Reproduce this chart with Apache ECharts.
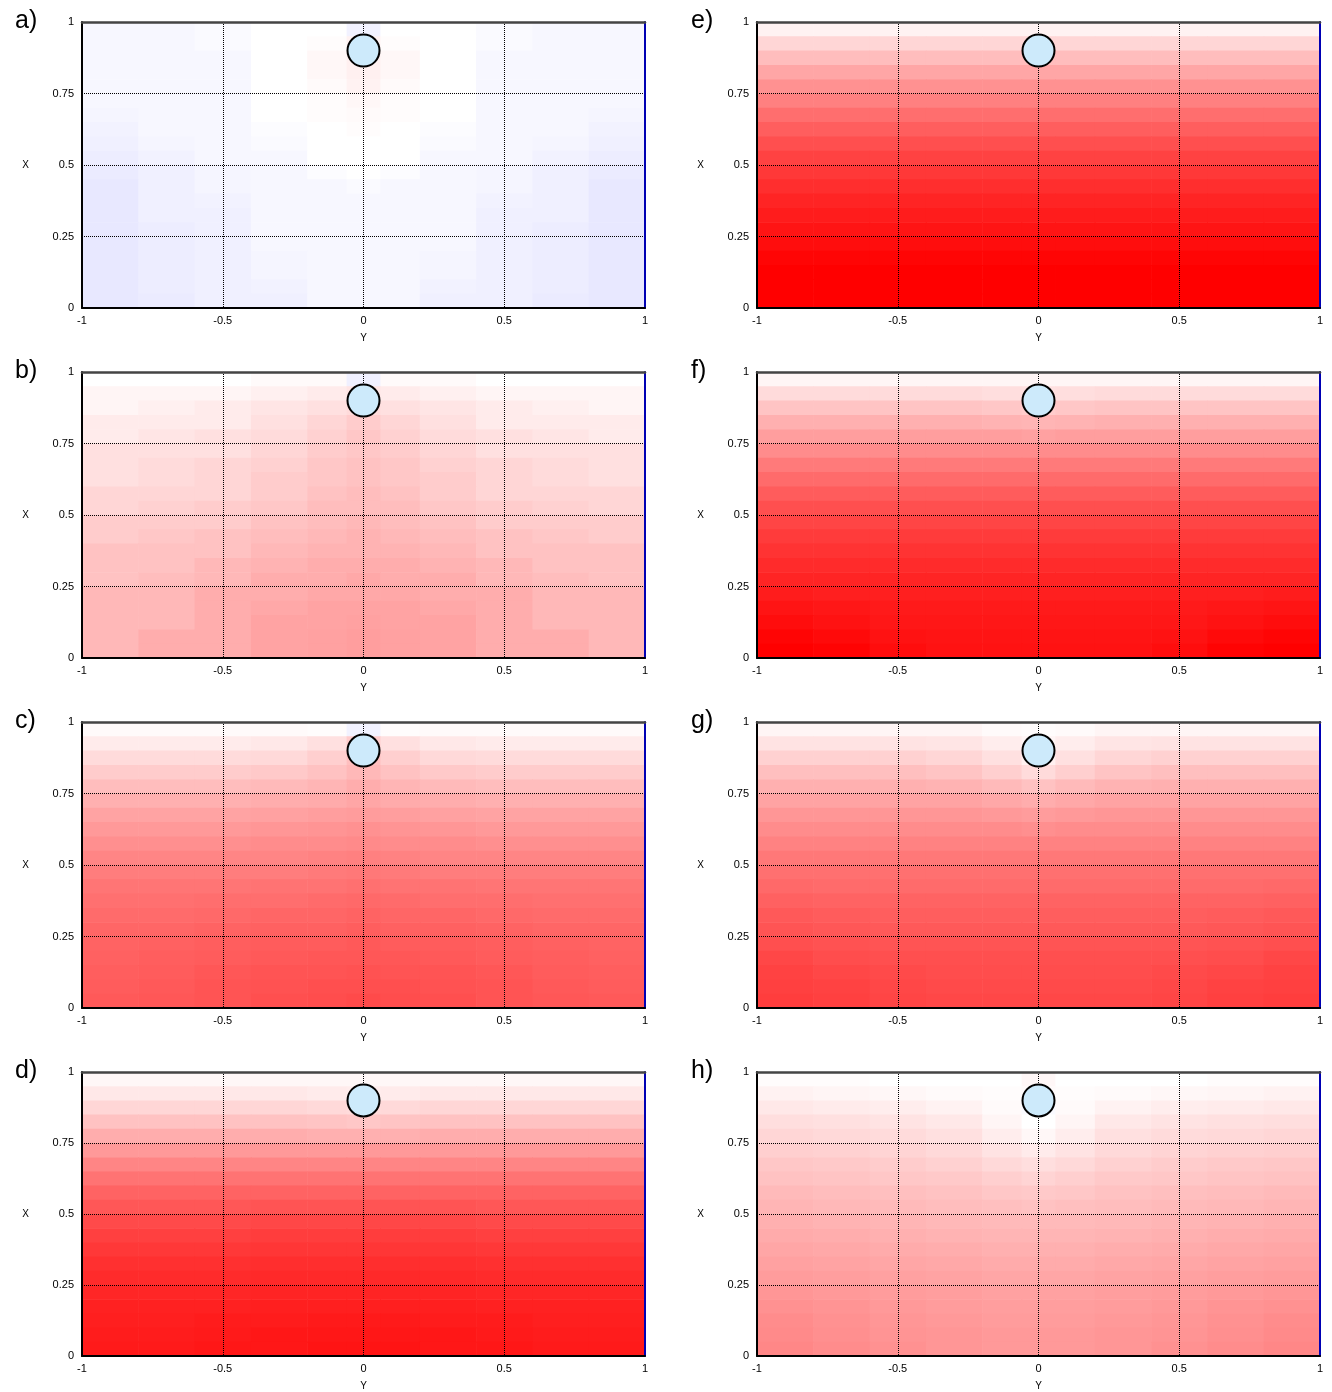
<!DOCTYPE html>
<html><head><meta charset="utf-8">
<script src="https://cdn.jsdelivr.net/npm/echarts@6/dist/echarts.min.js"></script>
<style>html,body{margin:0;padding:0;background:#fff}#c{width:1332px;height:1392px}</style>
</head><body><div id="c"></div>
<script>
// ---------- data ----------
const panelLabels = ['a)','b)','c)','d)','e)','f)','g)','h)'];
const yTickStep = 0.5;   // horizontal axis "Y"
const xTickStep = 0.25;  // vertical axis "X"
// column edges along Y, row edges along X (rows listed from top X=1 down to X=0)
const yEdges = [-1,-0.8,-0.6,-0.4,-0.2,-0.06,0.06,0.2,0.4,0.6,0.8,1];
const xEdges = [1,0.95,0.9,0.85,0.8,0.75,0.7,0.65,0.6,0.55,0.5,0.45,0.4,0.35,0.3,0.25,0.2,0.15,0.1,0.05,0];
// obstacle (circle) position per panel
const circleY = [0,0,0,0,0,0,0,0];
const circleX = [0.9,0.9,0.9,0.9,0.9,0.9,0.9,0.9];
const fieldA = [
[-3,-3,-2,0,0,-5,0,0,-2,-3,-3],
[-3,-3,-2,0,1,5,1,0,-2,-3,-3],
[-3,-3,-3,0,3,6,3,0,-3,-3,-3],
[-3,-3,-3,0,3,6,3,0,-3,-3,-3],
[-3,-3,-3,0,2,5,2,0,-3,-3,-3],
[-3,-3,-3,0,1,3,1,0,-3,-3,-3],
[-4,-3,-3,0,1,2,1,0,-3,-3,-4],
[-5,-3,-3,-1,0,1,0,-1,-3,-3,-5],
[-6,-4,-3,-2,0,0,0,-2,-3,-4,-6],
[-7,-5,-3,-3,0,0,0,-3,-3,-5,-7],
[-8,-6,-4,-3,-1,0,-1,-3,-4,-6,-8],
[-9,-6,-4,-3,-3,-2,-3,-3,-4,-6,-9],
[-9,-6,-5,-3,-3,-3,-3,-3,-5,-6,-9],
[-9,-6,-6,-3,-3,-3,-3,-3,-6,-6,-9],
[-9,-7,-6,-3,-3,-3,-3,-3,-6,-7,-9],
[-9,-7,-6,-3,-3,-3,-3,-3,-6,-7,-9],
[-9,-7,-6,-4,-3,-3,-3,-4,-6,-7,-9],
[-9,-7,-6,-4,-3,-3,-3,-4,-6,-7,-9],
[-9,-7,-6,-5,-3,-3,-3,-5,-6,-7,-9],
[-9,-8,-6,-6,-3,-3,-3,-6,-6,-8,-9]];
const fieldB = [
[0,0,0,2,2,-6,2,2,0,0,0],
[4,4,4,6,8,10,8,6,4,4,4],
[4,6,8,10,12,14,12,10,8,6,4],
[8,8,8,12,16,20,16,12,8,8,8],
[8,10,12,14,18,22,18,14,12,10,8],
[12,12,12,16,20,22,20,16,12,12,12],
[12,14,16,18,22,24,22,18,16,14,12],
[12,14,16,20,22,24,22,20,16,14,12],
[16,16,16,20,24,26,24,20,16,16,16],
[16,18,20,22,26,26,26,22,20,18,16],
[20,20,20,24,26,28,26,24,20,20,20],
[20,22,24,26,28,30,28,26,24,22,20],
[24,24,24,28,30,30,30,28,24,24,24],
[24,24,28,30,32,32,32,30,28,24,24],
[24,26,28,32,32,34,32,32,28,26,24],
[28,28,32,32,34,34,34,32,32,28,28],
[28,28,32,34,36,36,36,34,32,28,28],
[28,28,32,36,36,37,36,36,32,28,28],
[28,32,32,36,37,38,37,36,32,32,28],
[28,32,32,36,37,38,37,36,32,32,28]];
const fieldC = [
[2,2,2,2,1,-5,1,2,2,2,2],
[8,8,8,9,12,20,12,9,8,8,8],
[14,14,14,15,19,25,19,15,14,14,14],
[20,20,20,21,24,28,24,21,20,20,20],
[26,26,26,27,29,32,29,27,26,26,26],
[31,31,31,32,33,35,33,32,31,31,31],
[36,36,36,37,38,39,38,37,36,36,36],
[40,40,40,41,42,43,42,41,40,40,40],
[44,44,44,45,45,46,45,45,44,44,44],
[48,48,48,48,49,50,49,48,48,48,48],
[51,51,51,51,52,53,52,51,51,51,51],
[54,54,54,55,55,56,55,55,54,54,54],
[56,56,57,57,58,59,58,57,57,56,56],
[58,58,59,60,60,61,60,60,59,58,58],
[60,60,61,62,62,63,62,62,61,60,60],
[61,62,63,64,64,65,64,64,63,62,61],
[62,63,64,65,66,66,66,65,64,63,62],
[63,64,66,67,67,68,67,67,66,64,63],
[64,65,67,68,69,69,69,68,67,65,64],
[65,66,67,69,70,71,70,69,67,66,65]];
const fieldD = [
[3,3,3,3,3,3,3,3,3,3,3],
[9,9,9,9,8,7,8,9,9,9,9],
[16,16,16,16,15,14,15,16,16,16,16],
[24,24,24,24,23,22,23,24,24,24,24],
[32,32,32,32,31,31,31,32,32,32,32],
[40,40,40,40,40,40,40,40,40,40,40],
[48,48,48,48,48,48,48,48,48,48,48],
[55,55,55,55,55,55,55,55,55,55,55],
[61,61,61,61,61,61,61,61,61,61,61],
[66,66,66,67,67,67,67,67,66,66,66],
[71,71,71,72,72,72,72,72,71,71,71],
[75,75,75,76,76,76,76,76,75,75,75],
[78,78,78,79,79,79,79,79,78,78,78],
[81,81,81,82,82,82,82,82,81,81,81],
[83,83,83,84,84,84,84,84,83,83,83],
[85,85,85,86,86,86,86,86,85,85,85],
[87,87,87,88,88,88,88,88,87,87,87],
[88,88,89,89,90,90,90,89,89,88,88],
[89,89,90,91,91,91,91,91,90,89,89],
[90,90,91,91,92,92,92,91,91,90,90]];
const fieldE = [
[5,5,5,5,5,5,5,5,5,5,5],
[16,16,16,16,16,16,16,16,16,16,16],
[26,26,26,26,26,26,26,26,26,26,26],
[35,35,35,35,35,35,35,35,35,35,35],
[43,43,43,43,43,43,43,43,43,43,43],
[50,50,50,50,50,50,50,50,50,50,50],
[57,57,57,57,57,57,57,57,57,57,57],
[63,63,63,63,63,63,63,63,63,63,63],
[69,69,69,69,69,69,69,69,69,69,69],
[74,74,74,74,74,74,74,74,74,74,74],
[78,78,78,78,78,78,78,78,78,78,78],
[82,82,82,82,82,82,82,82,82,82,82],
[86,86,86,86,86,86,86,86,86,86,86],
[89,89,89,89,89,89,89,89,89,89,89],
[92,92,92,92,92,92,92,92,92,92,92],
[95,95,95,95,95,95,95,95,95,95,95],
[98,98,98,98,98,98,98,98,98,98,98],
[100,100,100,100,100,100,100,100,100,100,100],
[100,100,100,100,100,100,100,100,100,100,100],
[100,100,100,100,100,100,100,100,100,100,100]];
const fieldF = [
[4,4,4,4,4,4,4,4,4,4,4],
[14,14,14,14,13,12,13,14,14,14,14],
[23,23,23,23,22,20,22,23,23,23,23],
[31,31,31,31,30,29,30,31,31,31,31],
[38,38,38,38,38,37,38,38,38,38,38],
[45,45,45,45,45,45,45,45,45,45,45],
[52,52,52,52,52,52,52,52,52,52,52],
[58,58,58,58,58,58,58,58,58,58,58],
[64,64,64,64,64,64,64,64,64,64,64],
[69,69,69,69,69,69,69,69,69,69,69],
[73,73,73,73,73,73,73,73,73,73,73],
[77,77,77,77,77,77,77,77,77,77,77],
[80,80,80,80,80,80,80,80,80,80,80],
[83,83,83,83,83,83,83,83,83,83,83],
[86,86,86,86,86,86,86,86,86,86,86],
[89,88,88,88,88,88,88,88,88,88,89],
[92,91,90,90,90,90,90,90,90,91,92],
[95,93,91,91,91,91,91,91,91,93,95],
[98,96,93,92,92,92,92,92,93,96,98],
[100,99,95,93,93,93,93,93,95,99,100]];
const fieldG = [
[4,4,4,4,2,1,2,4,4,4,4],
[11,11,11,10,7,4,7,10,11,11,11],
[18,18,18,16,12,6,12,16,18,18,18],
[25,25,25,23,19,14,19,23,25,25,25],
[31,31,31,30,27,24,27,30,31,31,31],
[36,36,36,36,34,32,34,36,36,36,36],
[41,41,41,41,40,39,40,41,41,41,41],
[45,45,45,45,45,44,45,45,45,45,45],
[49,49,49,49,49,49,49,49,49,49,49],
[53,53,53,53,53,53,53,53,53,53,53],
[56,56,56,56,56,56,56,56,56,56,56],
[59,58,58,58,58,58,58,58,58,58,59],
[62,61,61,61,61,61,61,61,61,61,62],
[65,64,63,63,63,63,63,63,63,64,65],
[67,66,65,65,65,65,65,65,65,66,67],
[69,68,67,67,67,67,67,67,67,68,69],
[72,70,69,69,69,69,69,69,69,70,72],
[74,72,71,70,70,70,70,70,71,72,74],
[75,74,72,71,71,71,71,71,72,74,75],
[76,75,73,72,72,72,72,72,73,75,76]];
const fieldH = [
[1,1,0,0,0,3,0,0,0,1,1],
[5,4,3,2,1,2,1,2,3,4,5],
[9,8,7,5,2,-2,2,5,7,8,9],
[13,12,11,9,4,0,4,9,11,12,13],
[16,15,14,12,7,3,7,12,14,15,16],
[19,18,17,15,11,8,11,15,17,18,19],
[22,21,20,18,15,13,15,18,20,21,22],
[24,23,22,21,19,17,19,21,22,23,24],
[27,26,25,24,22,21,22,24,25,26,27],
[29,28,27,26,25,24,25,26,27,28,29],
[31,30,29,28,27,27,27,28,29,30,31],
[33,32,31,30,29,29,29,30,31,32,33],
[35,34,33,32,31,31,31,32,33,34,35],
[37,36,35,34,33,33,33,34,35,36,37],
[39,38,37,36,35,35,35,36,37,38,39],
[41,40,39,38,37,37,37,38,39,40,41],
[43,42,40,39,38,38,38,39,40,42,43],
[45,43,41,40,39,39,39,40,41,43,45],
[46,44,42,41,40,40,40,41,42,44,46],
[47,45,43,41,40,40,40,41,43,45,47]];
const fields = [fieldA,fieldB,fieldC,fieldD,fieldE,fieldF,fieldG,fieldH];

// ---------- chart ----------
const FONT = 'Liberation Sans';
function cells(field){
  const out = [];
  for (let r = 0; r < field.length; r++)
    for (let c = 0; c < field[r].length; c++)
      out.push([yEdges[c], yEdges[c+1], xEdges[r+1], xEdges[r], field[r][c]]);
  return out;
}
function renderCell(params, api){
  const tl = api.coord([api.value(0), api.value(3)]);
  const br = api.coord([api.value(1), api.value(2)]);
  return {type:'rect', silent:true,
    shape:{x:tl[0], y:tl[1], width:br[0]-tl[0]+0.6, height:br[1]-tl[1]+0.6},
    style:{fill:api.visual('color')}};
}
const grids=[], xAxes=[], yAxes=[], series=[], titles=[], cellSeries=[];
const dotted = {color:'#000', type:[1,1], width:1};
fields.forEach((f,i)=>{
  const col = i<4?0:1, row = i%4;
  const left = col===0?82:757, top = 22+350*row;
  grids.push({left:left, top:top, width:563, height:286, containLabel:false});
  titles.push({text:panelLabels[i], left: col===0?10:686, top: 4+350*row,
    textStyle:{fontSize:25, fontWeight:'normal', color:'#000', fontFamily:FONT}});
  xAxes.push({gridIndex:i, type:'value', min:-1, max:1, interval:yTickStep, position:'bottom', z:3,
    name:'Y', nameLocation:'middle', nameGap:25, nameTextStyle:{fontSize:10, color:'#000', fontFamily:FONT},
    axisLine:{onZero:false, lineStyle:{color:'#000', width:2}}, axisTick:{show:false},
    axisLabel:{margin:7, fontSize:11, color:'#000', fontFamily:FONT},
    splitLine:{show:true, lineStyle:dotted}});
  xAxes.push({gridIndex:i, type:'value', min:-1, max:1, position:'top', z:3,
    axisLine:{onZero:false, lineStyle:{color:'#444', width:2.5}}, axisTick:{show:false},
    axisLabel:{show:false}, splitLine:{show:false}});
  yAxes.push({gridIndex:i, type:'value', min:0, max:1, interval:xTickStep, position:'left', z:3,
    name:'X', nameLocation:'middle', nameRotate:0, nameGap:53, nameTextStyle:{fontSize:10, color:'#000', fontFamily:FONT},
    axisLine:{onZero:false, lineStyle:{color:'#000', width:2}}, axisTick:{show:false},
    axisLabel:{margin:8, fontSize:11, color:'#000', fontFamily:FONT},
    splitLine:{show:true, lineStyle:dotted}});
  yAxes.push({gridIndex:i, type:'value', min:0, max:1, position:'right', z:3,
    axisLine:{onZero:false, lineStyle:{color:'#0000b4', width:2}}, axisTick:{show:false},
    axisLabel:{show:false}, splitLine:{show:false}});
  cellSeries.push(series.length);
  series.push({type:'custom', xAxisIndex:2*i, yAxisIndex:2*i, z:1, clip:true,
    renderItem:renderCell, encode:{x:[0,1], y:[2,3]}, data:cells(f), silent:true});
  series.push({type:'scatter', xAxisIndex:2*i, yAxisIndex:2*i, z:10, silent:true,
    symbol:'circle', symbolSize:32, data:[[circleY[i], circleX[i]]],
    itemStyle:{color:'#cdeafb', borderColor:'#000', borderWidth:2, opacity:1}});
});
const chart = echarts.init(document.getElementById('c'), null, {renderer:'canvas'});
chart.setOption({
  animation:false, backgroundColor:'#fff',
  title:titles, grid:grids, xAxis:xAxes, yAxis:yAxes,
  visualMap:{type:'continuous', show:false, min:-100, max:100, dimension:4, seriesIndex:cellSeries,
    inRange:{color:['#0000ff','#ffffff','#ff0000']}},
  series:series
});
</script></body></html>
